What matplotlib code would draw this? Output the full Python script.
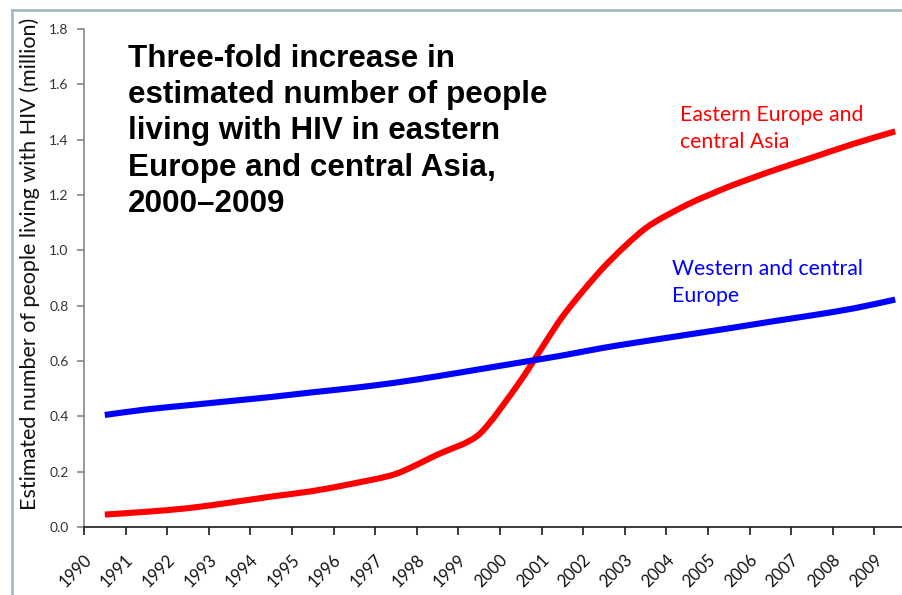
import numpy as np
import matplotlib
matplotlib.use('Agg')
import matplotlib.pyplot as plt
from matplotlib.transforms import ScaledTranslation
from matplotlib.lines import Line2D
from matplotlib.path import Path
from matplotlib.patches import PathPatch

years = [str(y) for y in range(1990, 2010)]
eastern = [0.045, 0.055, 0.068, 0.088, 0.11, 0.13, 0.158, 0.192, 0.262, 0.335,
           0.53, 0.76, 0.94, 1.08, 1.165, 1.23, 1.285, 1.335, 1.385, 1.43]
western = [0.405, 0.425, 0.44, 0.455, 0.47, 0.487, 0.503, 0.522, 0.545, 0.57,
           0.595, 0.62, 0.648, 0.672, 0.695, 0.718, 0.742, 0.765, 0.79, 0.822]
yticks = [0.0, 0.2, 0.4, 0.6, 0.8, 1.0, 1.2, 1.4, 1.6, 1.8]

body_font = 'Lato'


def smooth_path(xs, ys, t=0.13):
    # bezier through the points, like a spreadsheet "smoothed line"
    pts = np.column_stack([xs, ys]).astype(float)
    verts = [pts[0]]
    codes = [Path.MOVETO]
    n = len(pts)
    for i in range(n - 1):
        p0 = pts[i - 1] if i > 0 else pts[i]
        p1 = pts[i]
        p2 = pts[i + 1]
        p3 = pts[i + 2] if i + 2 < n else pts[i + 1]
        verts += [p1 + (p2 - p0) * t, p2 - (p3 - p1) * t, p2]
        codes += [Path.CURVE4] * 3
    return Path(verts, codes)


fig = plt.figure(figsize=(9.03, 5.95), dpi=100)
# axes: y axis at x=84px, bottom at 527px, right edge cut off by the image
ax = fig.add_axes([84/903, 68/595, 832/903, 498/595])

x = np.arange(len(years))
for vals, col in [(eastern, '#ff0000'), (western, '#0000ff')]:
    ax.add_patch(PathPatch(smooth_path(x, vals), facecolor='none', edgecolor=col,
                           lw=4.4, capstyle='butt'))

ax.set_xlim(-0.5, 19.5)
ax.set_ylim(0, 1.8)

for s in ['top', 'right']:
    ax.spines[s].set_visible(False)
ax.spines['left'].set_color('#868686')
ax.spines['left'].set_linewidth(1.2)
ax.spines['bottom'].set_color('#1a1a1a')
ax.spines['bottom'].set_linewidth(1.2)

ax.set_yticks(yticks)
ax.set_yticklabels(['%.1f' % v for v in yticks], fontsize=10, color='#333333',
                   family=body_font)
ax.tick_params(axis='y', direction='out', length=5, width=1.2, color='#868686', pad=6)

# tick marks between categories, labels at category centres
ax.set_xticks(np.arange(-0.5, 20, 1))
ax.set_xticklabels([])
ax.tick_params(axis='x', which='major', direction='out', length=6, width=1.2,
               color='#1a1a1a')
ax.set_xticks(x, minor=True)
ax.set_xticklabels(years, minor=True, rotation=45, ha='right', va='top',
                   fontsize=12, family=body_font, color='#111111')
ax.tick_params(axis='x', which='minor', length=0, pad=18)
for lbl in ax.get_xticklabels(minor=True):
    lbl.set_transform(lbl.get_transform() + ScaledTranslation(-0.10, 0, fig.dpi_scale_trans))

fig.text(30/903, 1 - 264/595, 'Estimated number of people living with HIV (million)',
         rotation=90, ha='center', va='center', fontsize=15.5, family=body_font,
         color='#111111')

fig.text(128/903, 1 - 44/595,
         'Three-fold increase in\nestimated number of people\nliving with HIV in eastern\n'
         'Europe and central Asia,\n2000\u20132009',
         ha='left', va='top', fontsize=22.6, fontweight='bold',
         family='Liberation Sans', linespacing=1.27, color='black')

fig.text(680/903, 1 - 105/595, 'Eastern Europe and\ncentral Asia', ha='left', va='top',
         fontsize=15.3, family=body_font, color='#ff0000', linespacing=1.45)
fig.text(672/903, 1 - 259/595, 'Western and central\nEurope', ha='left', va='top',
         fontsize=15.3, family=body_font, color='#0000ff', linespacing=1.45)

# slide frame
fig.add_artist(Line2D([12/903, 12/903], [0, 1 - 10/595], transform=fig.transFigure,
                      color='#9db5bd', lw=1.8))
fig.add_artist(Line2D([12/903, 1], [1 - 10/595, 1 - 10/595], transform=fig.transFigure,
                      color='#9db5bd', lw=1.8))

fig.savefig('out.png', dpi=100)
